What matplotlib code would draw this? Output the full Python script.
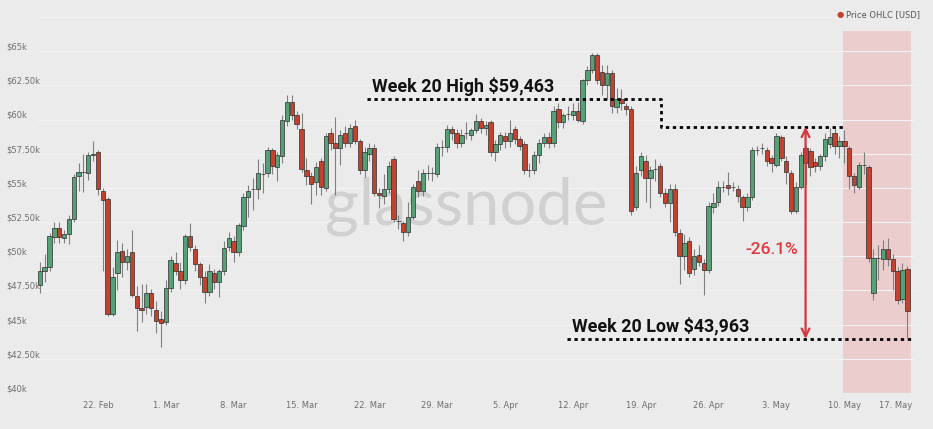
import numpy as np
import pandas as pd
import matplotlib
matplotlib.use('Agg')
import matplotlib.pyplot as plt

# 12h candles, Price OHLC [USD], values in $k
start = '2021-02-16 00:00'
o = [47.9, 48.9, 49.2, 51.4, 52.1, 51.3, 51.6, 52.7, 55.9, 56.2,
     56.1, 57.4, 57.6, 54.8, 54.2, 45.8, 48.8, 50.4, 49.6, 50.3,
     47.1, 46.2, 46.3, 47.3, 46.1, 45.4, 45.2, 47.7, 49.5, 48.9,
     48.3, 51.5, 50.5, 49.4, 48.5, 47.4, 48.8, 48.1, 48.9, 50.7,
     51.1, 50.3, 52.2, 54.3, 54.9, 54.9, 56.0, 56.1, 57.8, 56.5,
     57.3, 59.9, 61.3, 60.3, 59.3, 56.3, 55.9, 55.4, 57.0, 55.0,
     59.0, 58.3, 57.9, 59.0, 58.3, 59.5, 58.4, 56.3, 57.5, 57.9,
     54.6, 54.4, 54.9, 57.1, 52.6, 52.4, 51.8, 52.9, 55.5, 54.8,
     56.1, 56.1, 56.0, 58.0, 58.0, 59.3, 59.0, 58.3, 59.0, 58.9,
     59.2, 59.9, 59.4, 59.8, 57.6, 58.2, 58.8, 58.4, 59.3, 58.6,
     58.2, 56.3, 56.3, 57.4, 58.3, 58.7, 58.3, 60.8, 59.8, 60.4,
     60.3, 60.6, 59.9, 62.9, 63.6, 64.7, 63.5, 62.5, 63.4, 60.9,
     61.5, 61.0, 60.8, 53.6, 56.3, 57.0, 55.7, 56.4, 56.6, 54.6,
     53.9, 54.9, 51.7, 50.0, 51.1, 49.1, 50.1, 49.5, 49.0, 53.6,
     54.0, 55.1, 55.2, 55.1, 54.9, 54.3, 53.6, 54.3, 57.8, 57.9,
     57.8, 57.2, 56.7, 58.7, 57.0, 56.1, 53.3, 55.1, 57.9, 57.7,
     56.9, 56.6, 57.3, 58.2, 59.0, 58.1, 58.4, 57.9, 55.9, 55.1,
     56.7, 56.5, 47.3, 49.9, 49.8, 50.5, 49.8, 48.9, 46.9, 49.1]
h = [49.6, 50.2, 51.7, 52.5, 52.5, 51.9, 53.0, 56.0, 56.8, 57.5,
     57.6, 58.4, 57.8, 55.0, 54.3, 49.2, 51.2, 51.0, 50.5, 51.9,
     47.8, 48.0, 48.0, 47.6, 46.7, 46.0, 48.3, 50.0, 50.3, 49.6,
     51.6, 52.4, 50.8, 49.6, 48.9, 49.4, 49.1, 49.1, 51.1, 51.8,
     51.5, 52.4, 54.6, 55.2, 55.7, 57.1, 56.8, 58.0, 57.9, 57.6,
     60.3, 61.8, 61.8, 60.6, 60.5, 57.2, 56.2, 56.9, 57.2, 59.0,
     59.4, 60.2, 59.2, 59.5, 59.7, 60.0, 58.6, 58.0, 58.3, 58.2,
     55.0, 56.0, 57.0, 57.3, 53.0, 52.6, 54.0, 55.3, 56.3, 56.4,
     56.7, 56.5, 58.3, 58.5, 59.6, 59.5, 59.3, 59.3, 59.8, 59.4,
     60.4, 60.1, 59.9, 60.0, 58.5, 59.1, 59.1, 60.0, 59.5, 58.8,
     58.4, 56.8, 57.7, 58.6, 59.0, 59.1, 61.0, 61.2, 60.5, 61.0,
     61.2, 61.3, 63.0, 63.9, 64.9, 64.9, 64.0, 64.0, 63.6, 62.3,
     62.2, 61.2, 61.0, 56.6, 57.6, 57.4, 56.6, 57.1, 56.8, 55.0,
     55.3, 55.3, 52.0, 51.6, 51.4, 50.5, 50.8, 49.8, 54.0, 54.6,
     55.5, 55.5, 56.2, 55.4, 55.2, 54.5, 54.6, 58.0, 58.1, 58.3,
     58.0, 57.4, 59.0, 58.9, 57.3, 56.3, 55.4, 57.6, 58.1, 57.9,
     57.2, 57.5, 59.0, 59.4, 59.4, 58.8, 59.2, 58.1, 56.1, 56.9,
     57.6, 56.7, 50.5, 50.8, 51.2, 51.3, 50.2, 49.2, 49.5, 49.3]
l = [47.3, 48.1, 48.9, 51.0, 51.0, 51.0, 50.9, 52.5, 54.8, 54.7,
     55.6, 57.0, 54.5, 48.9, 45.6, 45.6, 47.5, 48.5, 49.0, 47.0,
     44.5, 45.2, 45.8, 45.6, 44.4, 43.4, 45.0, 47.4, 48.6, 47.6,
     48.0, 50.4, 48.9, 47.9, 46.6, 47.1, 47.6, 47.0, 48.6, 50.4,
     49.6, 50.0, 51.9, 52.9, 53.4, 54.2, 54.6, 55.8, 56.0, 55.5,
     56.8, 59.5, 60.0, 59.3, 56.2, 55.2, 53.8, 54.5, 54.5, 54.8,
     57.8, 54.5, 56.7, 58.0, 58.0, 58.2, 56.0, 55.8, 57.0, 54.4,
     53.5, 53.8, 54.6, 52.5, 52.0, 51.1, 51.5, 52.7, 54.3, 54.4,
     55.6, 55.5, 55.8, 57.3, 57.6, 58.5, 57.9, 58.0, 58.6, 58.5,
     59.0, 59.0, 58.9, 57.3, 57.0, 57.8, 57.9, 58.0, 58.2, 57.8,
     56.0, 55.8, 56.0, 56.8, 58.0, 57.9, 58.0, 59.4, 59.4, 60.0,
     60.0, 59.8, 59.7, 62.5, 63.4, 62.6, 61.8, 61.4, 60.5, 60.5,
     60.7, 60.3, 53.0, 53.4, 55.9, 54.0, 53.5, 55.5, 54.3, 53.6,
     52.5, 51.5, 48.0, 49.0, 48.5, 48.6, 49.3, 47.2, 48.8, 53.2,
     53.7, 54.7, 54.5, 54.8, 54.0, 52.6, 53.3, 54.1, 57.4, 57.5,
     56.6, 56.2, 56.5, 57.0, 55.3, 53.1, 53.2, 54.9, 55.2, 55.9,
     56.2, 56.3, 57.0, 57.9, 57.5, 57.2, 56.8, 54.9, 54.6, 54.9,
     56.0, 49.6, 46.8, 48.3, 49.0, 49.3, 47.5, 46.5, 46.6, 44.0]
c = [48.9, 49.2, 51.5, 52.1, 51.4, 51.6, 52.7, 55.8, 56.2, 56.2,
     57.4, 57.5, 54.9, 54.1, 45.8, 48.5, 50.3, 49.6, 50.0, 47.2,
     46.2, 46.1, 47.3, 46.2, 45.3, 45.1, 47.7, 49.7, 48.9, 48.3,
     51.5, 50.7, 49.4, 48.5, 47.4, 48.9, 48.1, 48.9, 50.6, 51.3,
     50.3, 52.3, 54.3, 54.8, 54.9, 56.1, 56.0, 57.8, 56.6, 57.4,
     60.0, 61.3, 60.3, 59.7, 56.4, 55.9, 55.3, 56.5, 55.1, 58.8,
     58.3, 57.9, 58.9, 58.3, 59.4, 58.4, 56.3, 57.6, 57.9, 54.6,
     54.5, 54.9, 56.6, 52.7, 52.6, 51.8, 52.9, 55.1, 54.8, 56.1,
     56.1, 56.1, 58.0, 58.0, 59.3, 59.0, 58.3, 58.9, 59.0, 59.2,
     59.9, 59.4, 59.6, 57.6, 58.2, 58.9, 58.4, 59.0, 58.6, 58.1,
     56.3, 56.3, 57.4, 58.3, 58.7, 58.3, 60.6, 59.8, 60.3, 60.4,
     60.6, 60.0, 62.9, 63.6, 64.7, 62.9, 62.5, 63.4, 61.0, 61.5,
     61.2, 60.8, 53.3, 56.1, 57.3, 55.7, 56.3, 56.4, 54.6, 53.9,
     54.9, 51.8, 50.0, 51.0, 48.8, 50.0, 49.6, 49.0, 53.7, 53.9,
     55.1, 55.1, 55.0, 55.1, 54.4, 53.6, 54.3, 57.8, 57.8, 57.9,
     57.0, 56.8, 58.8, 57.2, 56.2, 53.3, 55.1, 57.4, 56.8, 56.5,
     56.6, 57.3, 58.6, 58.7, 58.1, 58.4, 58.1, 55.9, 55.2, 56.7,
     56.7, 49.9, 49.9, 49.9, 50.5, 49.8, 48.9, 46.8, 49.0, 46.0]

week_high = 59.463
week_low = 43.963
prev_level = 61.5
drawdown = '-26.1%'

tick_dates = ['2021-02-22', '2021-03-01', '2021-03-08', '2021-03-15', '2021-03-22',
              '2021-03-29', '2021-04-05', '2021-04-12', '2021-04-19', '2021-04-26',
              '2021-05-03', '2021-05-10', '2021-05-17']
tick_labels = ['22. Feb', '1. Mar', '8. Mar', '15. Mar', '22. Mar', '29. Mar', '5. Apr',
               '12. Apr', '19. Apr', '26. Apr', '3. May', '10. May', '17. May']
y_ticks = [40, 42.5, 45, 47.5, 50, 52.5, 55, 57.5, 60, 62.5, 65, 67.5]
y_labels = ['$40k', '$42.50k', '$45k', '$47.50k', '$50k', '$52.50k', '$55k',
            '$57.50k', '$60k', '$62.50k', '$65k', '']

bg = '#ebebeb'
green = '#56a077'
red = '#c3422f'

t = pd.date_range(start, periods=len(o), freq='12h')
o = np.array(o); h = np.array(h); l = np.array(l); c = np.array(c)
colors = np.where(c >= o, green, red)

fig = plt.figure(figsize=(9.33, 4.29), dpi=100, facecolor=bg)
ax = fig.add_axes([38 / 933, 1 - 393 / 429, 877 / 933, 376 / 429])
ax.set_facecolor(bg)

ax.axvspan(pd.Timestamp('2021-05-09 21:00'), pd.Timestamp('2021-05-16 20:00'),
           ymin=0, ymax=(66.45 - 40) / 27.5, color='#ebcdce', lw=0, zorder=0.5)

ax.text(pd.Timestamp('2021-04-01 00:00'), 52.3, 'glassnode', fontsize=47,
        family='Lato', color='#d0d0d0', ha='center', va='baseline', zorder=1)

ax.vlines(t, l, h, color='#808080', lw=0.8, zorder=2)
ax.bar(t, np.abs(c - o), bottom=np.minimum(o, c), width=0.45, color=colors,
       edgecolor='#2e2e2e', linewidth=0.5, zorder=3)

# week 20 high / low annotations
hx = pd.to_datetime(['2021-03-21 18:00', '2021-04-21 02:00', '2021-04-21 02:00', '2021-05-09 21:00'])
ax.plot(hx, [prev_level, prev_level, week_high, week_high], color='black', lw=2,
        ls=(0, (1.2, 1.3)), dash_capstyle='butt', zorder=5)
lx = pd.to_datetime(['2021-04-11 10:00', '2021-05-16 20:00'])
ax.plot(lx, [week_low, week_low], color='black', lw=2, ls=(0, (1.2, 1.3)),
        dash_capstyle='butt', zorder=5)
ax.text(pd.Timestamp('2021-03-22 06:00'), 62.45, 'Week 20 High $59,463', fontsize=12.9,
        family='Roboto', weight='bold', color='#111111', va='center', ha='left', zorder=6)
ax.text(pd.Timestamp('2021-04-11 22:00'), 44.9, 'Week 20 Low $43,963', fontsize=12.9,
        family='Roboto', weight='bold', color='#111111', va='center', ha='left', zorder=6)

ax_x = pd.Timestamp('2021-05-06 00:00')
ax.annotate('', xy=(ax_x, week_low), xytext=(ax_x, week_high),
            arrowprops=dict(arrowstyle='<->', color='#d8343c', lw=1.6, mutation_scale=14,
                            shrinkA=0, shrinkB=0), zorder=6)
ax.text(pd.Timestamp('2021-05-02 12:00'), 50.5, drawdown, fontsize=12.5, family='Roboto',
        weight='medium', color='#e0383e', ha='center', va='center', zorder=6)

ax.set_xlim(pd.Timestamp('2021-02-15 19:30'), pd.Timestamp('2021-05-17 07:00'))
ax.set_ylim(40, 67.5)
ax.set_yticks(y_ticks)
ax.set_yticklabels([])
ax.grid(axis='y', color='#f3f3f3', lw=0.8, zorder=0)
ax.set_axisbelow(True)
for v, s in zip(y_ticks, y_labels):
    ax.text(-32 / 877, v + 0.3, s, transform=ax.get_yaxis_transform(), fontsize=6,
            color='#6f6f6f', ha='left', va='center')

ax.set_xticks(pd.to_datetime(tick_dates))
ax.set_xticklabels(tick_labels, fontsize=6, color='#6f6f6f')
ax.get_xticklabels()[-1].set_horizontalalignment('right')
ax.tick_params(length=0, pad=6)
for s in ax.spines.values():
    s.set_visible(False)

fig.text(840 / 933, 1 - 15 / 429, '\u25cf', color='#c3422f', fontsize=6, ha='center', va='center')
fig.text(846 / 933, 1 - 15 / 429, 'Price OHLC [USD]', color='#555555', fontsize=6,
         ha='left', va='center')

fig.savefig('out.png', dpi=100, facecolor=bg)
